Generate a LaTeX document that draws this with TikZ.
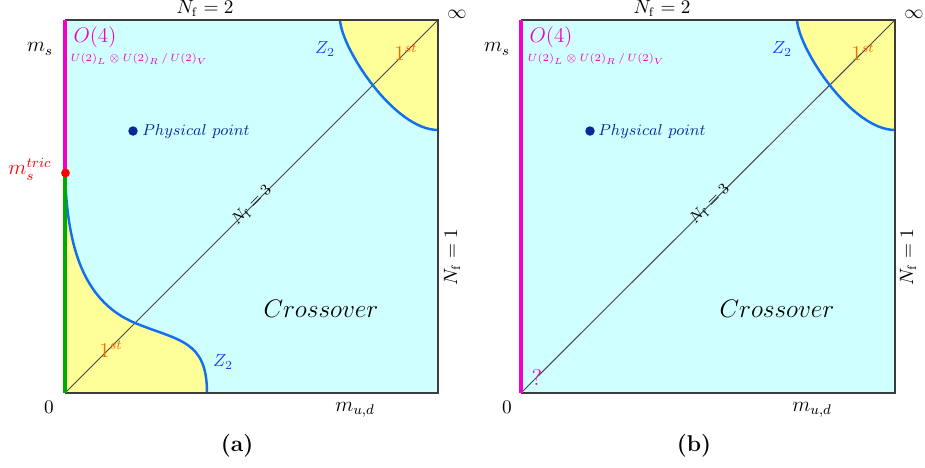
\documentclass[tikz,border=0pt]{standalone}
\begin{document}
\begin{tikzpicture}[x=0.02cm,y=-0.02cm,
  bg/.style={fill={rgb,255:red,208;green,255;blue,255}},
  firstorder/.style={fill={rgb,255:red,255;green,255;blue,153}},
  frame/.style={draw={rgb,255:red,60;green,60;blue,60},line width=0.75pt},
  diag/.style={draw={rgb,255:red,70;green,70;blue,70},line width=0.55pt},
  ztwo/.style={draw={rgb,255:red,20;green,110;blue,240},line width=1.4pt},
  mag/.style={draw={rgb,255:red,245;green,0;blue,200},line width=1.8pt},
  grn/.style={draw={rgb,255:red,0;green,170;blue,0},line width=1.8pt},
  lbl/.style={inner sep=0pt},
  capt/.style={inner sep=0pt,font=\normalfont\bfseries\fontsize{13}{15}\selectfont},
  magtxt/.style={inner sep=0pt,text={rgb,255:red,245;green,0;blue,200}},
  orng/.style={inner sep=0pt,text={rgb,255:red,255;green,100;blue,0},font=\fontsize{12}{14}\selectfont},
  zlab/.style={inner sep=0pt,text={rgb,255:red,30;green,60;blue,255},font=\fontsize{10}{12}\selectfont},
  phys/.style={inner sep=0pt,text={rgb,255:red,10;green,40;blue,150},font=\fontsize{9.5}{11}\selectfont},
  physdot/.style={circle,inner sep=0pt,minimum size=9pt*0.6,fill={rgb,255:red,10;green,40;blue,150}}
]
\useasboundingbox (0,0) rectangle (925,467);

% ================= Panel (a) =================
\fill[bg] (65,20) rectangle (438,393);
\fill[firstorder] (340,20) .. controls (342,50) and (395,130) .. (438,130) -- (438,20) -- cycle;
\fill[firstorder] (65,173) .. controls (67,240) and (80,300) .. (135,323)
   .. controls (179,341) and (207,340) .. (207,393) -- (65,393) -- cycle;
\coordinate (a0) at (65,393);
\coordinate (ainf) at (438,20);
\draw[diag] (a0) -- (ainf);
\draw[ztwo] (340,20) .. controls (342,50) and (395,130) .. (438,130);
\draw[ztwo] (65,173) .. controls (67,240) and (80,300) .. (135,323)
   .. controls (179,341) and (207,340) .. (207,393);
\draw[frame] (65,20) -- (438,20) -- (438,393) -- (65,393);
\draw[mag] (65,20) -- (65,173);
\draw[grn] (65,173) -- (65,393);
\node[circle,fill=red,inner sep=0pt,minimum size=5pt] (tric) at (65.5,173) {};

\node[lbl,font=\fontsize{10.5}{12}\selectfont] (anf2) at (205,8) {$N_{\mathrm{f}}=2$};
\node[lbl,font=\fontsize{11}{12}\selectfont] (ainfl) at (457,14) {$\infty$};
\node[lbl,font=\fontsize{12}{13}\selectfont] (ams) at (40,49) {$m_s$};
\node[lbl,text=red,font=\fontsize{12}{14}\selectfont] (amtric) at (30,169) {$m_s^{tric}$};
\node[lbl,font=\fontsize{11}{12}\selectfont] (azero) at (49,407) {$0$};
\node[lbl,font=\fontsize{12}{13}\selectfont] (amud) at (355,410) {$m_{u,d}$};
\node[capt] (acap) at (237,446) {(a)};
\node[lbl,rotate=90,font=\fontsize{10.5}{12}\selectfont] (anf1) at (452,257) {$N_{\mathrm{f}}=1$};
\node[lbl,font=\fontsize{14}{16}\selectfont] (across) at (321,309) {$Crossover$};
\node[physdot] (adot) at (133,131) {};
\node[phys,anchor=west] (aphys) at (142,132) {$Physical\ point$};
\node[magtxt,font=\fontsize{11.5}{13}\selectfont] (ao4) at (95,37) {$O(4)$};
\node[magtxt,font=\fontsize{6}{7}\selectfont] (au2) at (139,59) {$U(2)_L\otimes U(2)_R\,/\,U(2)_V$};
\node[zlab] (az2t) at (325,49) {$Z_2$};
\node[orng] (a1st) at (406,52) {$1^{st}$};
\node[orng] (a1stb) at (111,349) {$1^{st}$};
\node[zlab] (az2b) at (223,362) {$Z_2$};
\node[lbl,rotate=45,font=\fontsize{9.5}{11}\selectfont] (anf3) at (252,205) {$N_{\mathrm{f}}=3$};

% ================= Panel (b) =================
\fill[bg] (521,20) rectangle (895,393);
\fill[firstorder] (797,20) .. controls (799,50) and (852,130) .. (895,130) -- (895,20) -- cycle;
\coordinate (b0) at (521,393);
\coordinate (binf) at (895,20);
\draw[diag] (b0) -- (binf);
\draw[ztwo] (797,20) .. controls (799,50) and (852,130) .. (895,130);
\draw[frame] (521,20) -- (895,20) -- (895,393) -- (521,393);
\draw[mag] (521,20) -- (521,393);

\node[lbl,font=\fontsize{10.5}{12}\selectfont] (bnf2) at (662,8) {$N_{\mathrm{f}}=2$};
\node[lbl,font=\fontsize{11}{12}\selectfont] (binfl) at (914,14) {$\infty$};
\node[lbl,font=\fontsize{12}{13}\selectfont] (bms) at (497,49) {$m_s$};
\node[lbl,font=\fontsize{11}{12}\selectfont] (bzero) at (507,407) {$0$};
\node[lbl,font=\fontsize{12}{13}\selectfont] (bmud) at (812,410) {$m_{u,d}$};
\node[capt] (bcap) at (694,446) {(b)};
\node[lbl,rotate=90,font=\fontsize{10.5}{12}\selectfont] (bnf1) at (908,257) {$N_{\mathrm{f}}=1$};
\node[lbl,font=\fontsize{14}{16}\selectfont] (bcross) at (777,309) {$Crossover$};
\node[physdot] (bdot) at (590,131) {};
\node[phys,anchor=west] (bphys) at (598,132) {$Physical\ point$};
\node[magtxt,font=\fontsize{11.5}{13}\selectfont] (bo4) at (551,37) {$O(4)$};
\node[magtxt,font=\fontsize{6}{7}\selectfont] (bu2) at (596,59) {$U(2)_L\otimes U(2)_R\,/\,U(2)_V$};
\node[zlab] (bz2t) at (782,49) {$Z_2$};
\node[orng] (b1st) at (863,52) {$1^{st}$};
\node[magtxt,font=\fontsize{13}{15}\selectfont] (bq) at (537,377) {?};
\node[lbl,rotate=45,font=\fontsize{9.5}{11}\selectfont] (bnf3) at (710,204) {$N_{\mathrm{f}}=3$};
\end{tikzpicture}
\end{document}
